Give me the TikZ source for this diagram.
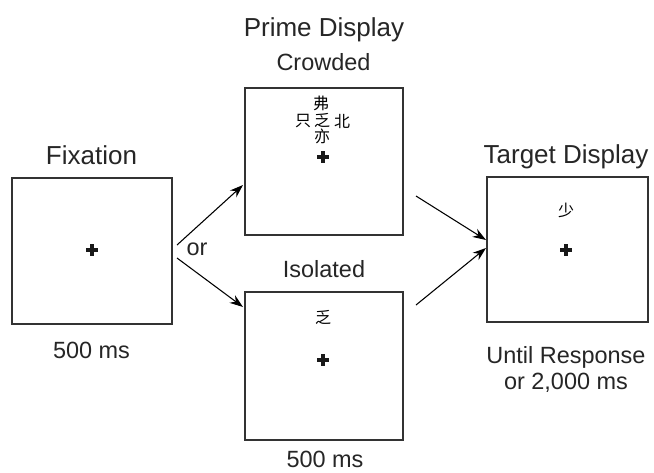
\documentclass[tikz,border=0pt]{standalone}
\usepackage{fontspec}
\setmainfont{Liberation Sans}
\newfontfamily\cjk{Noto Sans CJK SC}
\usetikzlibrary{arrows.meta,calc}
\begin{document}
\begin{tikzpicture}[x=0.75pt,y=-0.75pt,
  screen/.style={draw=black!80,line width=1pt},
  title/.style={anchor=base,font=\fontsize{19.5}{22}\selectfont,text=black!85,inner sep=0pt},
  label/.style={anchor=base,font=\fontsize{17.6}{20}\selectfont,text=black!85,inner sep=0pt},
  glyph/.style={font=\cjk\fontsize{12}{12}\selectfont,inner sep=0pt},
  arr/.style={line width=0.8pt,-{Stealth[length=10pt,width=7pt]}},
  fixcross/.style={line width=2.4pt,black!90}]
\useasboundingbox[fill=white] (0,0) rectangle (654,472);
% screens
\node[screen,minimum width=120pt,minimum height=109.5pt,inner sep=0pt] (fix) at (92,251) {};
\node[screen,minimum width=118.5pt,minimum height=110.25pt,inner sep=0pt] (crowd) at (324,161.5) {};
\node[screen,minimum width=118.5pt,minimum height=111pt,inner sep=0pt] (iso) at (324,366) {};
\node[screen,minimum width=120.75pt,minimum height=108.75pt,inner sep=0pt] (targ) at (567.5,249.5) {};
% titles and labels
\node[title] (tfix) at (91.5,164) {Fixation};
\node[title] (tprime) at (324,36) {Prime Display};
\node[label] (tcrowd) at (323.5,70) {Crowded};
\node[title] (ttarg) at (566,163) {Target Display};
\node[label] (tiso) at (324,277) {Isolated};
\node[label] (tfixms) at (91.5,358) {500 ms};
\node[label] (tisoms) at (325,467.5) {500 ms};
\node[label] (tuntil) at (566,363) {Until Response};
\node[label] (tor2000) at (566,389) {or 2,000 ms};
\node[label] (tor) at (197,255) {or};
% fixation crosses
\foreach \n/\cx/\cy in {a/92/250, b/323/157, c/323/360, d/566/250}{
  \coordinate (c\n) at (\cx,\cy);
  \draw[fixcross] ($(c\n)+(-6,0)$) -- ($(c\n)+(6,0)$);
  \draw[fixcross] ($(c\n)+(0,-6)$) -- ($(c\n)+(0,6)$);
}
% crowded characters
\node[glyph] (gtop) at (321,103) {弗};
\node[glyph] (gleft) at (303,121) {只};
\node[glyph] (gmid) at (322,120) {乏};
\node[glyph] (gright) at (342,121) {北};
\node[glyph] (gbot) at (322,136) {亦};
% isolated and target characters
\node[glyph] (giso) at (323,317) {乏};
\node[glyph] (gtarg) at (566,210) {少};
% arrows
\coordinate (a1s) at (177,245);
\coordinate (a1e) at (243,185);
\coordinate (a2s) at (177,258);
\coordinate (a2e) at (243,307);
\coordinate (a3s) at (416,196);
\coordinate (a3e) at (486,240);
\coordinate (a4s) at (416,305);
\coordinate (a4e) at (486,248);
\draw[arr] (a1s) -- (a1e);
\draw[arr] (a2s) -- (a2e);
\draw[arr] (a3s) -- (a3e);
\draw[arr] (a4s) -- (a4e);
\end{tikzpicture}
\end{document}
